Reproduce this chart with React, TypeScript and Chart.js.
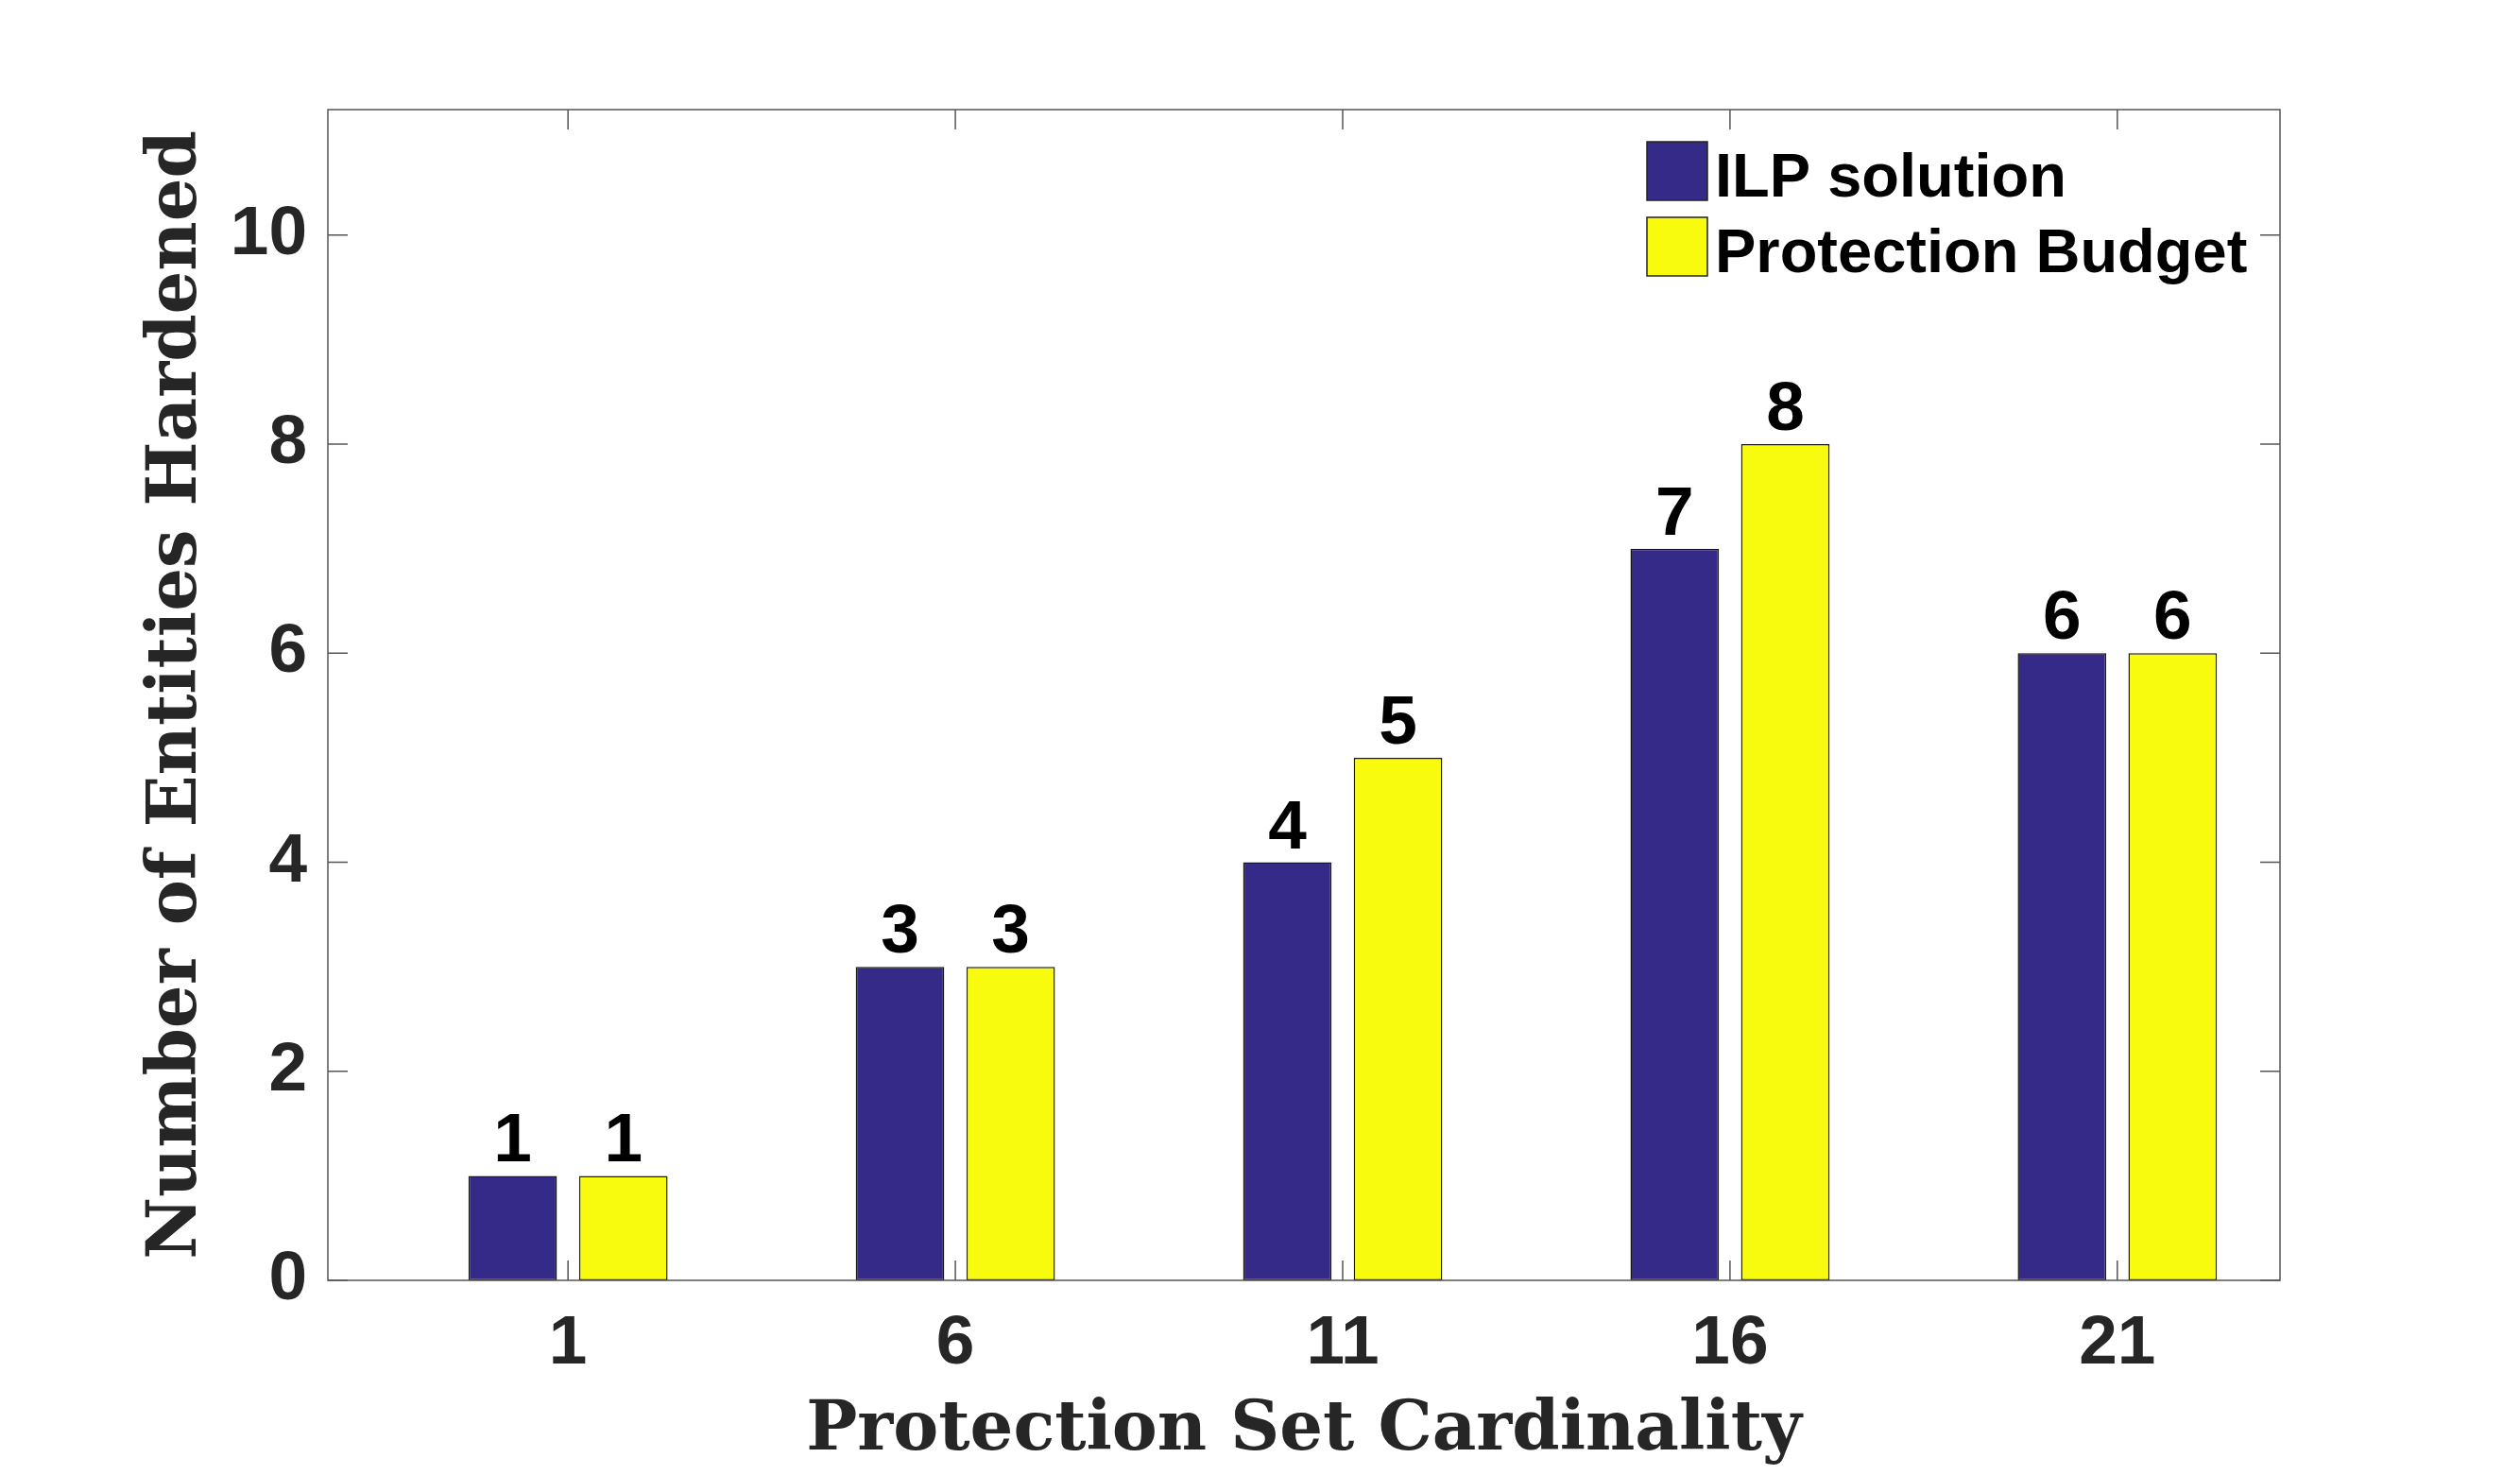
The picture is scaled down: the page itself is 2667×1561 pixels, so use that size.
import { useEffect, useRef } from 'react';
import { Chart, registerables } from 'chart.js';

Chart.register(...registerables);

// Protection set sizes on the x axis and the two series drawn at each size
const cardinalities = [1, 6, 11, 16, 21];
const ilpSolution = [1, 3, 4, 7, 6];
const protectionBudget = [1, 3, 5, 8, 6];
const seriesNames = ['ILP solution', 'Protection Budget'];
const yTickValues = [0, 2, 4, 6, 8, 10];
const xLimits = [-2.1, 23.1];
const yLimits = [0, 11.2];
const xTitle = 'Protection Set Cardinality';
const yTitle = 'Number of Entities Hardened';

const WIDTH = 2667;
const HEIGHT = 1561;
const BLUE = '#352A87';
const YELLOW = '#F9FB0E';
const AXIS_COLOR = '#555555';
const TEXT_COLOR = '#262626';
const SANS = '"Liberation Sans", Arial, Helvetica, sans-serif';
const SERIF = '"DejaVu Serif", serif';
const TICK_LEN = 21;

// Box around the plot area with inward-pointing tick marks on all four sides
const framePlugin = {
  id: 'frame',
  afterDatasetsDraw(chart: any) {
    const { ctx, chartArea: a, scales } = chart;
    ctx.save();
    ctx.strokeStyle = AXIS_COLOR;
    ctx.lineWidth = 1.5;
    ctx.strokeRect(a.left, a.top, a.right - a.left, a.bottom - a.top);
    ctx.beginPath();
    for (const t of scales.x.ticks) {
      const px = scales.x.getPixelForValue(t.value);
      ctx.moveTo(px, a.bottom);
      ctx.lineTo(px, a.bottom - TICK_LEN);
      ctx.moveTo(px, a.top);
      ctx.lineTo(px, a.top + TICK_LEN);
    }
    for (const t of scales.y.ticks) {
      const py = scales.y.getPixelForValue(t.value);
      ctx.moveTo(a.left, py);
      ctx.lineTo(a.left + TICK_LEN, py);
      ctx.moveTo(a.right, py);
      ctx.lineTo(a.right - TICK_LEN, py);
    }
    ctx.stroke();
    ctx.restore();
  },
};

// Value written above every bar
const valueLabelPlugin = {
  id: 'valueLabels',
  afterDatasetsDraw(chart: any) {
    const { ctx } = chart;
    ctx.save();
    ctx.fillStyle = '#000000';
    ctx.font = `bold 73px ${SANS}`;
    ctx.textAlign = 'center';
    ctx.textBaseline = 'alphabetic';
    chart.data.datasets.forEach((ds: any, i: number) => {
      const meta = chart.getDatasetMeta(i);
      meta.data.forEach((el: any, j: number) => {
        ctx.fillText(String(ds.data[j].y), el.x, el.y - 15);
      });
    });
    ctx.restore();
  },
};

// Borderless legend in the upper right of the plot area
const legendPlugin = {
  id: 'cornerLegend',
  afterDraw(chart: any) {
    const { ctx, chartArea: a } = chart;
    const left = a.right - 670;
    const top = a.top + 34;
    ctx.save();
    ctx.font = `bold 65px ${SANS}`;
    ctx.textAlign = 'left';
    ctx.textBaseline = 'alphabetic';
    chart.data.datasets.forEach((ds: any, i: number) => {
      const y = top + i * 80;
      ctx.fillStyle = ds.backgroundColor;
      ctx.fillRect(left, y, 64, 62);
      ctx.strokeStyle = '#222222';
      ctx.lineWidth = 1.5;
      ctx.strokeRect(left, y, 64, 62);
      ctx.fillStyle = '#000000';
      ctx.fillText(ds.label, left + 72, y + 58);
    });
    ctx.restore();
  },
};

export default function App() {
  const canvasRef = useRef<HTMLCanvasElement | null>(null);

  useEffect(() => {
    document.body.style.margin = '0';
    document.body.style.overflow = 'hidden';
    const canvas = canvasRef.current;
    if (!canvas) return;

    const toPoints = (values: number[]) =>
      cardinalities.map((c, i) => ({ x: c, y: values[i] }));

    const barStyle = {
      borderColor: '#1a1a1a',
      borderWidth: 1.5,
      borderSkipped: false,
      categoryPercentage: 2 / 3.5,
      barPercentage: 0.8,
    };

    const chart = new Chart(canvas, {
      type: 'bar',
      data: {
        datasets: [
          { label: seriesNames[0], data: toPoints(ilpSolution), backgroundColor: BLUE, ...barStyle },
          { label: seriesNames[1], data: toPoints(protectionBudget), backgroundColor: YELLOW, ...barStyle },
        ],
      },
      options: {
        responsive: false,
        animation: false,
        devicePixelRatio: 1,
        layout: { padding: { top: 116, right: 254, left: 0, bottom: 0 } },
        plugins: {
          legend: { display: false },
          tooltip: { enabled: false },
        },
        scales: {
          x: {
            type: 'linear',
            min: xLimits[0],
            max: xLimits[1],
            offset: false,
            afterBuildTicks: (s: any) => {
              s.ticks = cardinalities.map((v) => ({ value: v }));
            },
            afterFit: (s: any) => {
              s.height = 206;
              s.paddingLeft = 0;
              s.paddingRight = 0;
            },
            grid: { display: false, drawTicks: false, offset: false },
            border: { display: false },
            ticks: {
              padding: 24,
              color: TEXT_COLOR,
              autoSkip: false,
              maxRotation: 0,
              font: { family: SANS, size: 73, weight: 'bold' },
              callback: (v: any) => String(v),
            },
            title: {
              display: true,
              text: xTitle,
              color: TEXT_COLOR,
              font: { family: SERIF, size: 72, weight: 'bold' },
              padding: { top: 0, bottom: 3 },
            },
          },
          y: {
            type: 'linear',
            min: yLimits[0],
            max: yLimits[1],
            afterBuildTicks: (s: any) => {
              s.ticks = yTickValues.map((v) => ({ value: v }));
            },
            afterFit: (s: any) => {
              s.width = 347;
              s.paddingTop = 0;
              s.paddingBottom = 0;
            },
            grid: { display: false, drawTicks: false },
            border: { display: false },
            ticks: {
              padding: 22,
              color: TEXT_COLOR,
              font: { family: SANS, size: 73, weight: 'bold' },
              callback: (v: any) => String(v),
            },
            title: {
              display: true,
              text: yTitle,
              color: TEXT_COLOR,
              font: { family: SERIF, size: 72, weight: 'bold' },
              padding: { top: 145, bottom: 0 },
            },
          },
        },
      } as any,
      plugins: [framePlugin, valueLabelPlugin, legendPlugin],
    });

    return () => chart.destroy();
  }, []);

  return (
    <div style={{ width: WIDTH, height: HEIGHT, background: '#ffffff' }}>
      <canvas ref={canvasRef} width={WIDTH} height={HEIGHT} style={{ display: 'block' }} />
    </div>
  );
}
